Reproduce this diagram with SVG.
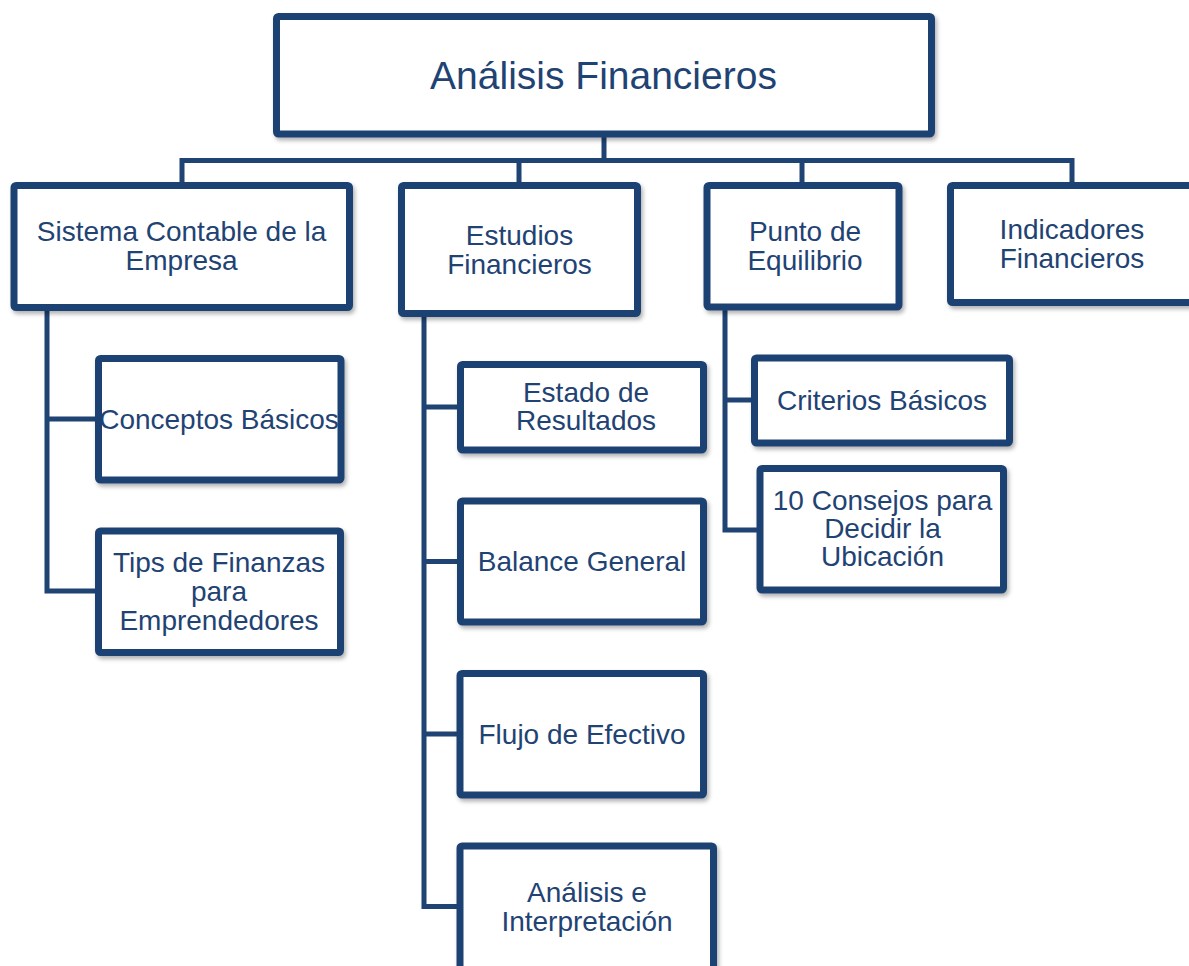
<svg xmlns="http://www.w3.org/2000/svg" width="1189" height="966" viewBox="0 0 1189 966">
<defs>
<filter id="sh" x="-10%" y="-10%" width="120%" height="130%">
<feDropShadow dx="2" dy="3" stdDeviation="2" flood-color="#000" flood-opacity="0.3"/>
</filter>
<style>
.box{fill:#fff;stroke:#1F4373;stroke-width:7;filter:url(#sh)}
.t{font-family:"Liberation Sans",Arial,sans-serif;font-size:28px;fill:#1F4373;text-anchor:middle}
.title{font-size:39px}
.c{fill:none;stroke:#1F4373;stroke-width:5;stroke-linejoin:miter}
</style>
</defs>
<rect width="1189" height="966" fill="#fff"/>
<g id="connectors">
<path class="c" d="M604 137 V160.5"/>
<path class="c" d="M182 183 V160.5 H1072 V183"/>
<path class="c" d="M519 160.5 V183"/>
<path class="c" d="M802 160.5 V183"/>
<path class="c" d="M47 310 V591 H96"/>
<path class="c" d="M47 419 H96"/>
<path class="c" d="M424 316 V906.5 H458"/>
<path class="c" d="M424 407 H458"/>
<path class="c" d="M424 561.5 H458"/>
<path class="c" d="M424 734 H458"/>
<path class="c" d="M725 310 V530 H758"/>
<path class="c" d="M725 400 H752"/>
</g>
<g id="n-root">
<rect class="box" x="276.5" y="16.5" width="655" height="117.5" rx="2"/>
<text class="t title" x="603.5" y="88.5">Análisis Financieros</text>
</g>
<g id="n-sistema">
<rect class="box" x="14" y="185.5" width="335.5" height="122" rx="2"/>
<text class="t" x="181.6" y="241">Sistema Contable de la</text>
<text class="t" x="181.6" y="269.5">Empresa</text>
</g>
<g id="n-estudios">
<rect class="box" x="401.5" y="185.5" width="236" height="128" rx="2"/>
<text class="t" x="519.5" y="245">Estudios</text>
<text class="t" x="519.5" y="273.5">Financieros</text>
</g>
<g id="n-punto">
<rect class="box" x="707" y="185.5" width="192" height="121.5" rx="2"/>
<text class="t" x="805" y="241">Punto de</text>
<text class="t" x="805" y="269.5">Equilibrio</text>
</g>
<g id="n-indicadores">
<rect class="box" x="950.5" y="185.5" width="245" height="117" rx="2"/>
<text class="t" x="1072" y="239">Indicadores</text>
<text class="t" x="1072" y="268">Financieros</text>
</g>
<g id="n-conceptos">
<rect class="box" x="98.5" y="358.5" width="242.5" height="121.5" rx="2"/>
<text class="t" x="219" y="429">Conceptos Básicos</text>
</g>
<g id="n-tips">
<rect class="box" x="98.5" y="531" width="242" height="121.5" rx="2"/>
<text class="t" x="219" y="572.3">Tips de Finanzas</text>
<text class="t" x="219" y="601">para</text>
<text class="t" x="219" y="629.7">Emprendedores</text>
</g>
<g id="n-estado">
<rect class="box" x="460.5" y="364.5" width="243" height="85.5" rx="2"/>
<text class="t" x="586" y="401.7">Estado de</text>
<text class="t" x="586" y="430">Resultados</text>
</g>
<g id="n-balance">
<rect class="box" x="460.5" y="501" width="243" height="121" rx="2"/>
<text class="t" x="582" y="570.7">Balance General</text>
</g>
<g id="n-flujo">
<rect class="box" x="460" y="673.5" width="243.5" height="121.5" rx="2"/>
<text class="t" x="582" y="744">Flujo de Efectivo</text>
</g>
<g id="n-analisis">
<rect class="box" x="460" y="846" width="253.5" height="140" rx="2"/>
<text class="t" x="587" y="902.3">Análisis e</text>
<text class="t" x="587" y="931">Interpretación</text>
</g>
<g id="n-criterios">
<rect class="box" x="754.5" y="358" width="255" height="85" rx="2"/>
<text class="t" x="882" y="410">Criterios Básicos</text>
</g>
<g id="n-consejos">
<rect class="box" x="760" y="468.5" width="243.5" height="121.5" rx="2"/>
<text class="t" x="882.5" y="510">10 Consejos para</text>
<text class="t" x="882.5" y="538">Decidir la</text>
<text class="t" x="882.5" y="566">Ubicación</text>
</g>
</svg>
